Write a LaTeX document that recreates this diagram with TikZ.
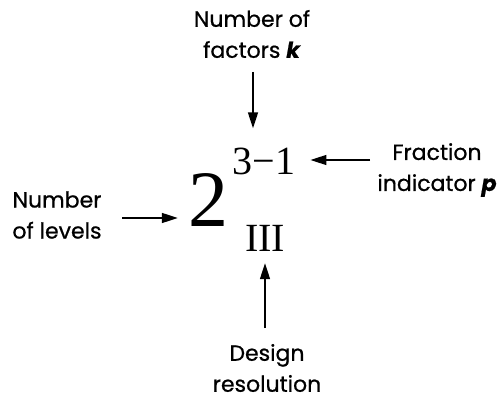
\documentclass[tikz,border=0pt]{standalone}
\usepackage{fontspec}
\setmainfont{Poppins}[FakeBold=0.7]
\newfontfamily\serifnum{Liberation Serif}
\usetikzlibrary{positioning,arrows.meta}

\begin{document}
\begin{tikzpicture}[x=1pt,y=-1pt,
  lbl/.style={font=\fontsize{22}{31}\selectfont,align=center,inner sep=0pt},
  num/.style={font=\serifnum,inner sep=0pt},
  arr/.style={-{Triangle[length=16pt,width=10pt]},line width=1.5pt}
]
\useasboundingbox (0,0) rectangle (501,398);
% the design symbol
\node[num,font=\fontsize{80}{80}\serifnum,anchor=base] (two) at (208,227) {2};
\node[num,font=\fontsize{40}{40}\serifnum,anchor=base] (exp) at (264,175) {3\textminus 1};
\node[num,font=\fontsize{40}{40}\serifnum,anchor=base] (res) at (265,252) {III};
% labels
\node[lbl] (k) at (252,34) {Number of\\factors \textbf{\textit{k}}};
\node[lbl] (p) at (437,170) {Fraction\\indicator \textbf{\textit{p}}};
\node[lbl] (lev) at (57,215) {Number\\of levels};
\node[lbl] (des) at (267,368) {Design\\resolution};
% arrow tails
\coordinate (kT) at (253,72);
\coordinate (pT) at (370,160);
\coordinate (levT) at (122,218);
\coordinate (desT) at (265,328);
\draw[arr,shorten >=20pt] (kT) -- (kT |- exp.north);
\draw[arr,shorten >=15pt] (pT) -- (pT -| exp.east);
\draw[arr,shorten >=10pt] (levT) -- (levT -| two.west);
\draw[arr,shorten >=11pt] (desT) -- (desT |- res.south);
\end{tikzpicture}
\end{document}
